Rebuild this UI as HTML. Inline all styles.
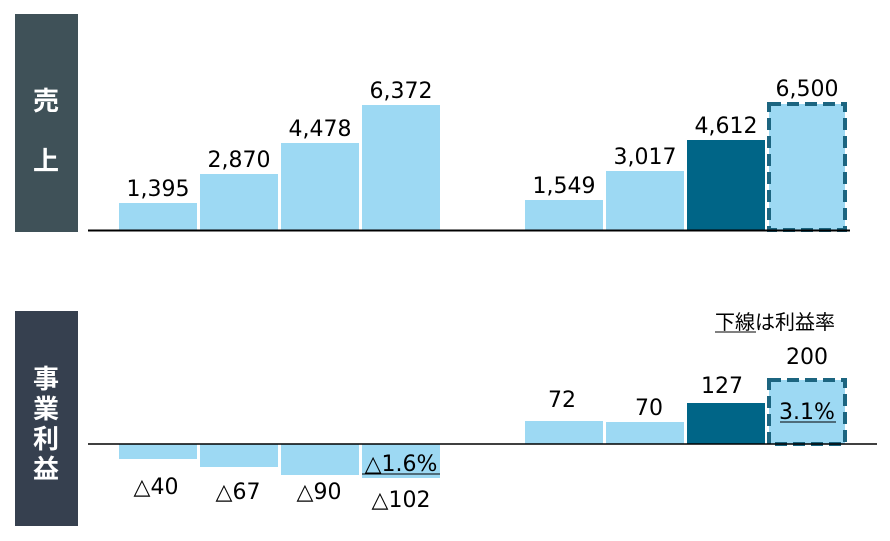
<!DOCTYPE html>
<html><head><meta charset="utf-8"><style>
body{margin:0;background:#fff;}
svg text{font-family:"DejaVu Sans","Noto Sans CJK JP",sans-serif;}
</style></head><body>
<svg width="890" height="536" viewBox="0 0 890 536" xmlns="http://www.w3.org/2000/svg">
<rect x="15" y="14" width="63" height="218" fill="#3f5158"/>
<text x="46" y="110" font-size="26" font-weight="bold" fill="#fff" text-anchor="middle" style="font-family:'Noto Sans CJK JP',sans-serif">売</text>
<text x="46" y="170" font-size="26" font-weight="bold" fill="#fff" text-anchor="middle" style="font-family:'Noto Sans CJK JP',sans-serif">上</text>
<rect x="15" y="311" width="63" height="215" fill="#36404f"/>
<g font-size="26" font-weight="bold" fill="#fff" text-anchor="middle" style="font-family:'Noto Sans CJK JP',sans-serif">
<text x="46" y="388">事</text><text x="46" y="418">業</text><text x="46" y="448">利</text><text x="46" y="478">益</text></g>
<g fill="#9dd9f3">
<rect x="119" y="203" width="78" height="27"/><rect x="200" y="174" width="78" height="56"/>
<rect x="281" y="143" width="78" height="87"/><rect x="362" y="105" width="78" height="125"/>
<rect x="525" y="200" width="78" height="30"/><rect x="606" y="171" width="78" height="59"/>
<rect x="769" y="104" width="76" height="126"/>
<rect x="119" y="444" width="78" height="15"/><rect x="200" y="444" width="78" height="23"/>
<rect x="281" y="444" width="78" height="31"/><rect x="362" y="444" width="78" height="34"/>
<rect x="525" y="421" width="78" height="23"/><rect x="606" y="422" width="78" height="22"/>
<rect x="769" y="380" width="76" height="64"/>
</g>
<rect x="687" y="140" width="78" height="90" fill="#006587"/>
<rect x="687" y="403" width="78" height="41" fill="#006587"/>
<rect x="769" y="104" width="76" height="126" fill="none" stroke="#1c6580" stroke-width="4" stroke-dasharray="12,6"/>
<rect x="769" y="380" width="76" height="64" fill="none" stroke="#1c6580" stroke-width="4" stroke-dasharray="12,6"/>
<line x1="88" y1="230.5" x2="850" y2="230.5" stroke="#000" stroke-width="2"/>
<line x1="88" y1="444" x2="877" y2="444" stroke="#000" stroke-width="1.5"/>
<g font-size="22" fill="#000" text-anchor="middle">
<text x="158" y="196">1,395</text><text x="239" y="167">2,870</text><text x="320" y="136">4,478</text><text x="401" y="98">6,372</text>
<text x="564" y="193">1,549</text><text x="645" y="164">3,017</text><text x="726" y="133">4,612</text><text x="807" y="96">6,500</text>
<text x="562" y="407">72</text><text x="649" y="415">70</text><text x="722" y="393">127</text><text x="807" y="364">200</text>
<text x="156" y="494">△40</text><text x="238" y="499">△67</text><text x="319" y="499">△90</text><text x="401" y="507">△102</text>
<text x="401" y="471">△1.6%</text>
<text x="807" y="419">3.1%</text>
</g>
<text x="715" y="329" font-size="20" fill="#000" style="font-family:'Noto Sans CJK JP',sans-serif">下線は利益率</text>
<line x1="715" y1="332" x2="756" y2="332" stroke="#000" stroke-width="1"/>
<line x1="362" y1="474" x2="440" y2="474" stroke="#000" stroke-width="1"/>
<line x1="780" y1="422" x2="836" y2="422" stroke="#000" stroke-width="1"/>
</svg>
</body></html>
